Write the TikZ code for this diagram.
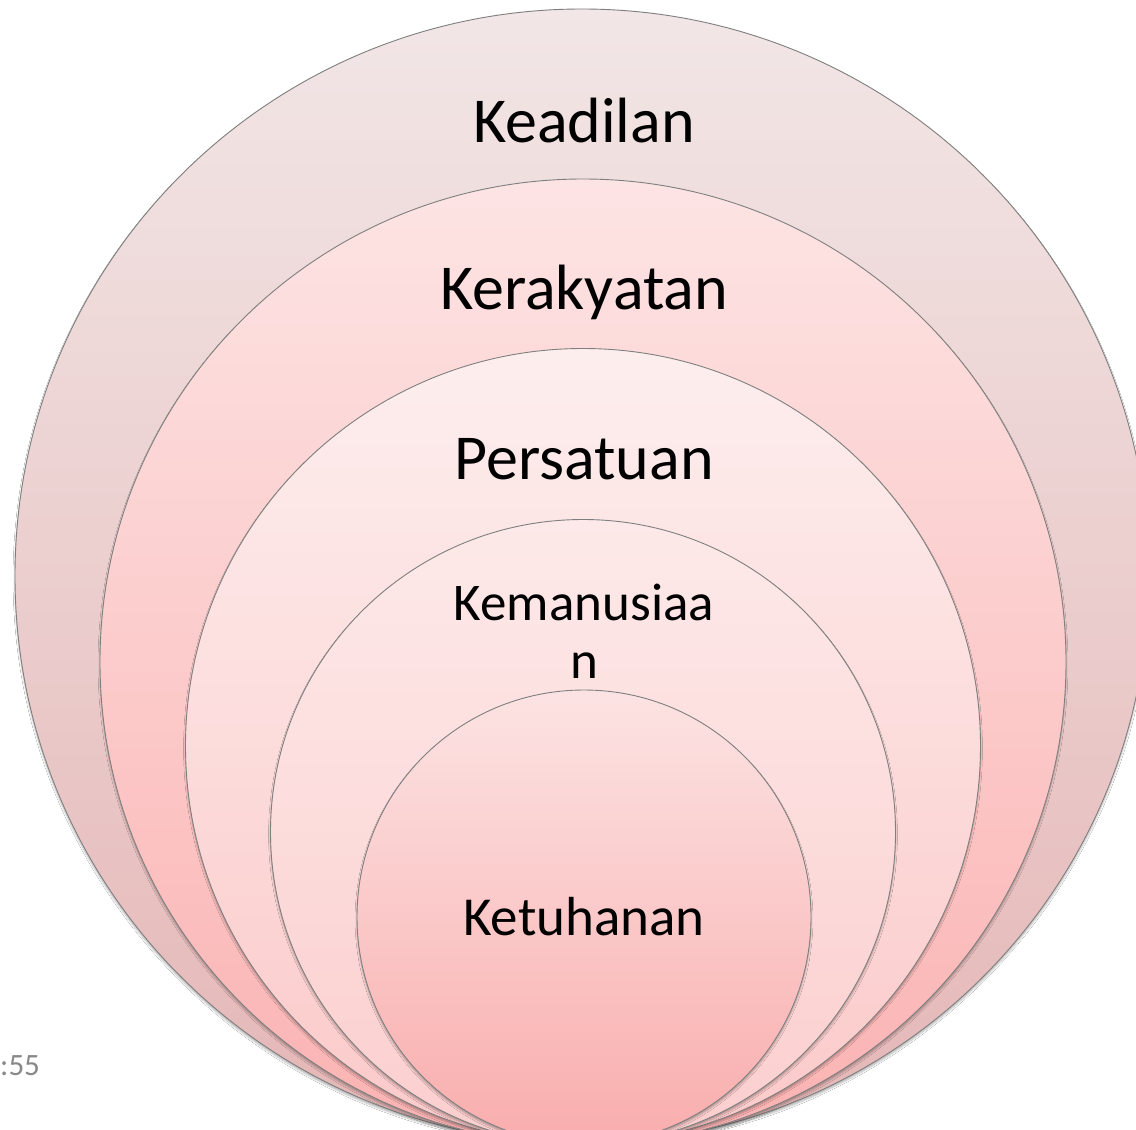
\documentclass[tikz,border=0pt]{standalone}
\usepackage{fontspec}
\setmainfont{Carlito}
\usetikzlibrary{shadows.blur}

\definecolor{ringline}{HTML}{7F7F7F}
\definecolor{adiltop}{HTML}{F2E6E6}
\definecolor{adilbot}{HTML}{E5B6B6}
\definecolor{rakyattop}{HTML}{FDE4E4}
\definecolor{rakyatbot}{HTML}{FBB2B2}
\definecolor{satutop}{HTML}{FDEEEE}
\definecolor{satubot}{HTML}{FCC9C9}
\definecolor{manusiatop}{HTML}{FDE9E9}
\definecolor{manusiabot}{HTML}{FCCECE}
\definecolor{tuhantop}{HTML}{FCE3E3}
\definecolor{tuhanbot}{HTML}{F9ADAD}
\definecolor{stampgray}{HTML}{888888}

\begin{document}
\begin{tikzpicture}[x=1pt,y=-1pt]

        \fill[white] (0,0) rectangle (1136,1130);
        \useasboundingbox (0,0) rectangle (1136,1130);

        % rings, outer first
        \begin{scope}[every node/.style={circle, draw=ringline, line width=.9pt, inner sep=0pt,
            blur shadow={shadow xshift=0pt, shadow yshift=-2.5pt, shadow blur steps=6, shadow opacity=30}}]
          \node[top color=adiltop, bottom color=adilbot, minimum size=1134pt]       (adil)    at (582,576) {};
          \node[top color=rakyattop, bottom color=rakyatbot, minimum size=966pt]    (rakyat)  at (583,662) {};
          \node[top color=satutop, bottom color=satubot, minimum size=795pt]        (satu)    at (583,746) {};
          \node[top color=manusiatop, bottom color=manusiabot, minimum size=625pt]  (manusia) at (583,832) {};
          \node[top color=tuhantop, bottom color=tuhanbot, minimum size=454pt]      (tuhan)   at (584,917) {};
        \end{scope}

        \begin{scope}[every node/.style={font=\fontsize{64}{70}\selectfont, inner sep=0pt}]
          \node[anchor=base] (adiltxt)    at (584,142) {Keadilan};
          \node[anchor=base] (rakyattxt)  at (584,309) {Kerakyatan};
          \node[anchor=base] (satutxt)    at (584,479) {Persatuan};
          \node[font=\fontsize{53}{58}\selectfont, align=center] (manusiatxt) at (584,631) {Kemanusiaa\\n};
          \node[anchor=base, font=\fontsize{55}{60}\selectfont] (tuhantxt) at (584,935) {Ketuhanan};
        \end{scope}

        \node[anchor=base west, inner sep=0pt, text=stampgray, font=\fontsize{31}{36}\selectfont] (stamp) at (0,1075) {:55};

      \end{tikzpicture}
\end{document}
